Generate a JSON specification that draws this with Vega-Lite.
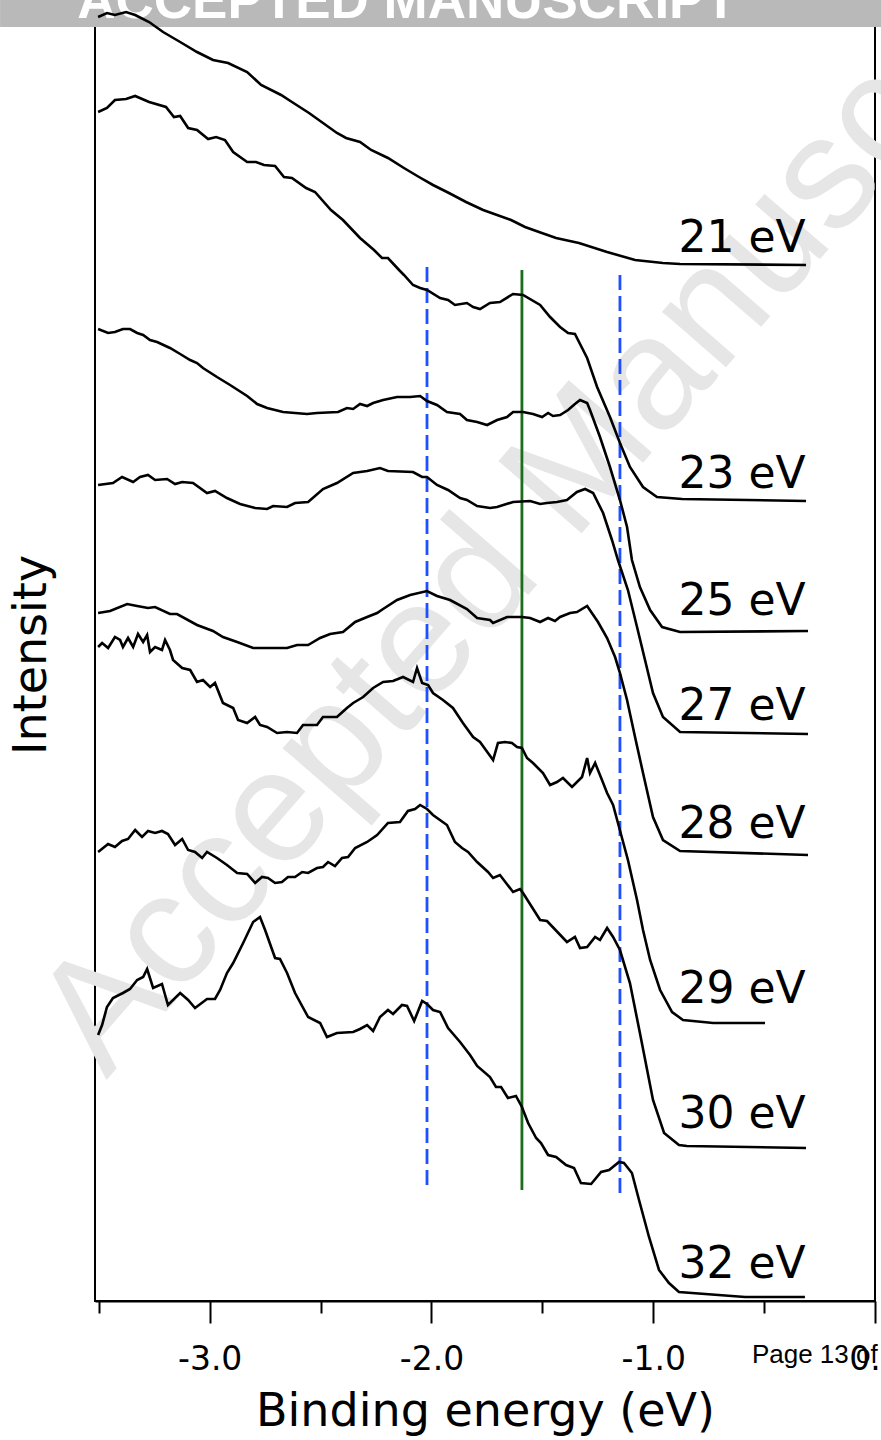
{
  "$schema": "https://vega.github.io/schema/vega-lite/v6.json",
  "width": 780,
  "height": 1293,
  "autosize": {"type": "none"},
  "padding": {"left": 95, "top": 8, "right": 6, "bottom": 139},
  "background": "white",
  "config": {"view": {"stroke": "black", "strokeWidth": 2}, "font": "DejaVu Sans"},
  "datasets": {
    "banner": [{"x": -3.945, "x2": 0.03, "y": 1301, "y2": 1274}],
    "bannerText": [{"t": "ACCEPTED MANUSCRIPT", "x": -2.11, "y": 1283}],
    "watermark": [{"t": "Accepted Manuscript", "x": -1.42, "y": 816}],
    "pageText": [{"t": "Page 13 of", "x": -0.555, "y": -62}],
    "rules": [
      {"k": "b", "x": -2.02, "y": 1034, "y2": 114},
      {"k": "g", "x": -1.592, "y": 1031, "y2": 111},
      {"k": "b", "x": -1.15, "y": 1026, "y2": 103}
    ],
    "labels": [
      {"t": "21 eV", "x": -0.313, "y": 1049},
      {"t": "23 eV", "x": -0.313, "y": 813},
      {"t": "25 eV", "x": -0.313, "y": 686},
      {"t": "27 eV", "x": -0.313, "y": 581},
      {"t": "28 eV", "x": -0.313, "y": 463},
      {"t": "29 eV", "x": -0.313, "y": 298},
      {"t": "30 eV", "x": -0.313, "y": 173},
      {"t": "32 eV", "x": -0.313, "y": 23}
    ],
    "spectra": [
      {"s": "21", "x": -3.503, "y": 1284}, {"s": "21", "x": -3.463, "y": 1288}, {"s": "21", "x": -3.427, "y": 1286}, {"s": "21", "x": -3.377, "y": 1289}, {"s": "21", "x": -3.336, "y": 1286}, {"s": "21", "x": -3.273, "y": 1279}, {"s": "21", "x": -3.21, "y": 1269}, {"s": "21", "x": -3.133, "y": 1259}, {"s": "21", "x": -3.057, "y": 1249}, {"s": "21", "x": -2.985, "y": 1241}, {"s": "21", "x": -2.917, "y": 1238}, {"s": "21", "x": -2.831, "y": 1229}, {"s": "21", "x": -2.768, "y": 1216}, {"s": "21", "x": -2.678, "y": 1206}, {"s": "21", "x": -2.629, "y": 1199}, {"s": "21", "x": -2.552, "y": 1188}, {"s": "21", "x": -2.426, "y": 1168}, {"s": "21", "x": -2.385, "y": 1163}, {"s": "21", "x": -2.322, "y": 1159}, {"s": "21", "x": -2.272, "y": 1151}, {"s": "21", "x": -2.196, "y": 1143}, {"s": "21", "x": -2.124, "y": 1133}, {"s": "21", "x": -2.056, "y": 1124}, {"s": "21", "x": -1.993, "y": 1116}, {"s": "21", "x": -1.921, "y": 1108}, {"s": "21", "x": -1.844, "y": 1099}, {"s": "21", "x": -1.767, "y": 1091}, {"s": "21", "x": -1.641, "y": 1081}, {"s": "21", "x": -1.578, "y": 1074}, {"s": "21", "x": -1.515, "y": 1069}, {"s": "21", "x": -1.438, "y": 1063}, {"s": "21", "x": -1.335, "y": 1058}, {"s": "21", "x": -1.208, "y": 1049}, {"s": "21", "x": -1.082, "y": 1041}, {"s": "21", "x": -0.956, "y": 1038}, {"s": "21", "x": -0.879, "y": 1037}, {"s": "21", "x": -0.311, "y": 1036},

      {"s": "23", "x": -3.503, "y": 1189}, {"s": "23", "x": -3.463, "y": 1193}, {"s": "23", "x": -3.427, "y": 1201}, {"s": "23", "x": -3.377, "y": 1202}, {"s": "23", "x": -3.336, "y": 1205}, {"s": "23", "x": -3.273, "y": 1199}, {"s": "23", "x": -3.197, "y": 1194}, {"s": "23", "x": -3.161, "y": 1184}, {"s": "23", "x": -3.133, "y": 1185}, {"s": "23", "x": -3.097, "y": 1173}, {"s": "23", "x": -3.057, "y": 1171}, {"s": "23", "x": -3.007, "y": 1162}, {"s": "23", "x": -2.971, "y": 1164}, {"s": "23", "x": -2.931, "y": 1161}, {"s": "23", "x": -2.894, "y": 1149}, {"s": "23", "x": -2.831, "y": 1139}, {"s": "23", "x": -2.791, "y": 1139}, {"s": "23", "x": -2.755, "y": 1136}, {"s": "23", "x": -2.705, "y": 1135}, {"s": "23", "x": -2.665, "y": 1124}, {"s": "23", "x": -2.629, "y": 1123}, {"s": "23", "x": -2.565, "y": 1113}, {"s": "23", "x": -2.525, "y": 1109}, {"s": "23", "x": -2.453, "y": 1091}, {"s": "23", "x": -2.399, "y": 1081}, {"s": "23", "x": -2.322, "y": 1063}, {"s": "23", "x": -2.259, "y": 1051}, {"s": "23", "x": -2.223, "y": 1043}, {"s": "23", "x": -2.196, "y": 1043}, {"s": "23", "x": -2.146, "y": 1031}, {"s": "23", "x": -2.124, "y": 1026}, {"s": "23", "x": -2.083, "y": 1016}, {"s": "23", "x": -2.051, "y": 1013}, {"s": "23", "x": -2.02, "y": 1011}, {"s": "23", "x": -1.961, "y": 1003}, {"s": "23", "x": -1.925, "y": 1001}, {"s": "23", "x": -1.894, "y": 996}, {"s": "23", "x": -1.84, "y": 998}, {"s": "23", "x": -1.812, "y": 994}, {"s": "23", "x": -1.781, "y": 992}, {"s": "23", "x": -1.736, "y": 998}, {"s": "23", "x": -1.691, "y": 999}, {"s": "23", "x": -1.632, "y": 1007}, {"s": "23", "x": -1.587, "y": 1006}, {"s": "23", "x": -1.51, "y": 996}, {"s": "23", "x": -1.465, "y": 984}, {"s": "23", "x": -1.42, "y": 974}, {"s": "23", "x": -1.384, "y": 968}, {"s": "23", "x": -1.353, "y": 967}, {"s": "23", "x": -1.298, "y": 943}, {"s": "23", "x": -1.253, "y": 914}, {"s": "23", "x": -1.195, "y": 884}, {"s": "23", "x": -1.15, "y": 858}, {"s": "23", "x": -1.105, "y": 834}, {"s": "23", "x": -1.046, "y": 814}, {"s": "23", "x": -0.983, "y": 804}, {"s": "23", "x": -0.87, "y": 802}, {"s": "23", "x": -0.311, "y": 800},

      {"s": "25", "x": -3.503, "y": 972}, {"s": "25", "x": -3.458, "y": 968}, {"s": "25", "x": -3.427, "y": 969}, {"s": "25", "x": -3.391, "y": 972}, {"s": "25", "x": -3.359, "y": 972}, {"s": "25", "x": -3.327, "y": 968}, {"s": "25", "x": -3.3, "y": 966}, {"s": "25", "x": -3.269, "y": 961}, {"s": "25", "x": -3.237, "y": 959}, {"s": "25", "x": -3.179, "y": 953}, {"s": "25", "x": -3.133, "y": 947}, {"s": "25", "x": -3.088, "y": 941}, {"s": "25", "x": -3.057, "y": 938}, {"s": "25", "x": -3.03, "y": 933}, {"s": "25", "x": -2.967, "y": 924}, {"s": "25", "x": -2.908, "y": 916}, {"s": "25", "x": -2.831, "y": 905}, {"s": "25", "x": -2.786, "y": 897}, {"s": "25", "x": -2.741, "y": 893}, {"s": "25", "x": -2.669, "y": 889}, {"s": "25", "x": -2.561, "y": 887}, {"s": "25", "x": -2.516, "y": 888}, {"s": "25", "x": -2.421, "y": 889}, {"s": "25", "x": -2.381, "y": 893}, {"s": "25", "x": -2.353, "y": 892}, {"s": "25", "x": -2.322, "y": 897}, {"s": "25", "x": -2.29, "y": 895}, {"s": "25", "x": -2.263, "y": 898}, {"s": "25", "x": -2.218, "y": 901}, {"s": "25", "x": -2.155, "y": 904}, {"s": "25", "x": -2.096, "y": 904}, {"s": "25", "x": -2.051, "y": 905}, {"s": "25", "x": -2.02, "y": 900}, {"s": "25", "x": -1.975, "y": 896}, {"s": "25", "x": -1.93, "y": 889}, {"s": "25", "x": -1.871, "y": 887}, {"s": "25", "x": -1.84, "y": 881}, {"s": "25", "x": -1.794, "y": 879}, {"s": "25", "x": -1.749, "y": 876}, {"s": "25", "x": -1.704, "y": 881}, {"s": "25", "x": -1.659, "y": 884}, {"s": "25", "x": -1.632, "y": 889}, {"s": "25", "x": -1.587, "y": 889}, {"s": "25", "x": -1.542, "y": 887}, {"s": "25", "x": -1.501, "y": 884}, {"s": "25", "x": -1.474, "y": 888}, {"s": "25", "x": -1.452, "y": 885}, {"s": "25", "x": -1.42, "y": 886}, {"s": "25", "x": -1.384, "y": 891}, {"s": "25", "x": -1.353, "y": 897}, {"s": "25", "x": -1.33, "y": 901}, {"s": "25", "x": -1.298, "y": 898}, {"s": "25", "x": -1.285, "y": 891}, {"s": "25", "x": -1.24, "y": 864}, {"s": "25", "x": -1.195, "y": 834}, {"s": "25", "x": -1.15, "y": 801}, {"s": "25", "x": -1.118, "y": 774}, {"s": "25", "x": -1.096, "y": 741}, {"s": "25", "x": -1.06, "y": 714}, {"s": "25", "x": -1.014, "y": 691}, {"s": "25", "x": -0.96, "y": 674}, {"s": "25", "x": -0.879, "y": 669}, {"s": "25", "x": -0.302, "y": 670},

      {"s": "27", "x": -3.503, "y": 816}, {"s": "27", "x": -3.436, "y": 818}, {"s": "27", "x": -3.395, "y": 824}, {"s": "27", "x": -3.345, "y": 819}, {"s": "27", "x": -3.314, "y": 824}, {"s": "27", "x": -3.278, "y": 826}, {"s": "27", "x": -3.246, "y": 821}, {"s": "27", "x": -3.192, "y": 822}, {"s": "27", "x": -3.156, "y": 817}, {"s": "27", "x": -3.124, "y": 819}, {"s": "27", "x": -3.075, "y": 818}, {"s": "27", "x": -3.012, "y": 808}, {"s": "27", "x": -2.976, "y": 810}, {"s": "27", "x": -2.922, "y": 803}, {"s": "27", "x": -2.863, "y": 797}, {"s": "27", "x": -2.795, "y": 793}, {"s": "27", "x": -2.741, "y": 792}, {"s": "27", "x": -2.714, "y": 795}, {"s": "27", "x": -2.651, "y": 794}, {"s": "27", "x": -2.615, "y": 798}, {"s": "27", "x": -2.556, "y": 799}, {"s": "27", "x": -2.489, "y": 812}, {"s": "27", "x": -2.426, "y": 818}, {"s": "27", "x": -2.353, "y": 828}, {"s": "27", "x": -2.29, "y": 830}, {"s": "27", "x": -2.232, "y": 833}, {"s": "27", "x": -2.196, "y": 830}, {"s": "27", "x": -2.083, "y": 829}, {"s": "27", "x": -2.042, "y": 824}, {"s": "27", "x": -2.02, "y": 824}, {"s": "27", "x": -1.975, "y": 816}, {"s": "27", "x": -1.925, "y": 811}, {"s": "27", "x": -1.871, "y": 803}, {"s": "27", "x": -1.84, "y": 801}, {"s": "27", "x": -1.794, "y": 795}, {"s": "27", "x": -1.736, "y": 793}, {"s": "27", "x": -1.704, "y": 794}, {"s": "27", "x": -1.632, "y": 799}, {"s": "27", "x": -1.555, "y": 800}, {"s": "27", "x": -1.51, "y": 797}, {"s": "27", "x": -1.479, "y": 798}, {"s": "27", "x": -1.434, "y": 799}, {"s": "27", "x": -1.389, "y": 801}, {"s": "27", "x": -1.344, "y": 809}, {"s": "27", "x": -1.307, "y": 812}, {"s": "27", "x": -1.271, "y": 808}, {"s": "27", "x": -1.226, "y": 788}, {"s": "27", "x": -1.186, "y": 761}, {"s": "27", "x": -1.159, "y": 741}, {"s": "27", "x": -1.114, "y": 711}, {"s": "27", "x": -1.073, "y": 674}, {"s": "27", "x": -1.037, "y": 641}, {"s": "27", "x": -1.001, "y": 608}, {"s": "27", "x": -0.956, "y": 584}, {"s": "27", "x": -0.879, "y": 569}, {"s": "27", "x": -0.302, "y": 567},

      {"s": "28", "x": -3.503, "y": 688}, {"s": "28", "x": -3.449, "y": 690}, {"s": "28", "x": -3.372, "y": 697}, {"s": "28", "x": -3.327, "y": 695}, {"s": "28", "x": -3.278, "y": 693}, {"s": "28", "x": -3.246, "y": 694}, {"s": "28", "x": -3.179, "y": 687}, {"s": "28", "x": -3.147, "y": 687}, {"s": "28", "x": -3.057, "y": 676}, {"s": "28", "x": -2.985, "y": 670}, {"s": "28", "x": -2.94, "y": 664}, {"s": "28", "x": -2.876, "y": 659}, {"s": "28", "x": -2.804, "y": 653}, {"s": "28", "x": -2.714, "y": 653}, {"s": "28", "x": -2.651, "y": 653}, {"s": "28", "x": -2.606, "y": 656}, {"s": "28", "x": -2.556, "y": 656}, {"s": "28", "x": -2.502, "y": 663}, {"s": "28", "x": -2.457, "y": 667}, {"s": "28", "x": -2.399, "y": 669}, {"s": "28", "x": -2.344, "y": 679}, {"s": "28", "x": -2.29, "y": 684}, {"s": "28", "x": -2.245, "y": 688}, {"s": "28", "x": -2.218, "y": 692}, {"s": "28", "x": -2.155, "y": 701}, {"s": "28", "x": -2.096, "y": 706}, {"s": "28", "x": -2.02, "y": 710}, {"s": "28", "x": -1.975, "y": 705}, {"s": "28", "x": -1.916, "y": 701}, {"s": "28", "x": -1.84, "y": 692}, {"s": "28", "x": -1.794, "y": 683}, {"s": "28", "x": -1.736, "y": 681}, {"s": "28", "x": -1.722, "y": 678}, {"s": "28", "x": -1.659, "y": 684}, {"s": "28", "x": -1.592, "y": 684}, {"s": "28", "x": -1.555, "y": 683}, {"s": "28", "x": -1.51, "y": 679}, {"s": "28", "x": -1.474, "y": 683}, {"s": "28", "x": -1.443, "y": 680}, {"s": "28", "x": -1.42, "y": 684}, {"s": "28", "x": -1.375, "y": 688}, {"s": "28", "x": -1.344, "y": 689}, {"s": "28", "x": -1.298, "y": 695}, {"s": "28", "x": -1.249, "y": 679}, {"s": "28", "x": -1.208, "y": 663}, {"s": "28", "x": -1.172, "y": 644}, {"s": "28", "x": -1.15, "y": 628}, {"s": "28", "x": -1.118, "y": 601}, {"s": "28", "x": -1.082, "y": 564}, {"s": "28", "x": -1.046, "y": 528}, {"s": "28", "x": -1.001, "y": 484}, {"s": "28", "x": -0.956, "y": 461}, {"s": "28", "x": -0.879, "y": 450}, {"s": "28", "x": -0.302, "y": 446},

      {"s": "29", "x": -3.503, "y": 654}, {"s": "29", "x": -3.485, "y": 658}, {"s": "29", "x": -3.458, "y": 653}, {"s": "29", "x": -3.427, "y": 664}, {"s": "29", "x": -3.404, "y": 661}, {"s": "29", "x": -3.391, "y": 654}, {"s": "29", "x": -3.368, "y": 663}, {"s": "29", "x": -3.345, "y": 654}, {"s": "29", "x": -3.323, "y": 667}, {"s": "29", "x": -3.3, "y": 659}, {"s": "29", "x": -3.282, "y": 666}, {"s": "29", "x": -3.269, "y": 649}, {"s": "29", "x": -3.246, "y": 654}, {"s": "29", "x": -3.215, "y": 651}, {"s": "29", "x": -3.201, "y": 661}, {"s": "29", "x": -3.179, "y": 651}, {"s": "29", "x": -3.165, "y": 641}, {"s": "29", "x": -3.124, "y": 633}, {"s": "29", "x": -3.088, "y": 631}, {"s": "29", "x": -3.057, "y": 619}, {"s": "29", "x": -3.03, "y": 621}, {"s": "29", "x": -2.998, "y": 614}, {"s": "29", "x": -2.976, "y": 618}, {"s": "29", "x": -2.94, "y": 598}, {"s": "29", "x": -2.894, "y": 593}, {"s": "29", "x": -2.872, "y": 581}, {"s": "29", "x": -2.831, "y": 578}, {"s": "29", "x": -2.795, "y": 584}, {"s": "29", "x": -2.773, "y": 576}, {"s": "29", "x": -2.741, "y": 574}, {"s": "29", "x": -2.696, "y": 568}, {"s": "29", "x": -2.651, "y": 569}, {"s": "29", "x": -2.606, "y": 568}, {"s": "29", "x": -2.579, "y": 576}, {"s": "29", "x": -2.516, "y": 576}, {"s": "29", "x": -2.489, "y": 584}, {"s": "29", "x": -2.426, "y": 584}, {"s": "29", "x": -2.381, "y": 593}, {"s": "29", "x": -2.353, "y": 598}, {"s": "29", "x": -2.308, "y": 604}, {"s": "29", "x": -2.263, "y": 613}, {"s": "29", "x": -2.218, "y": 619}, {"s": "29", "x": -2.173, "y": 620}, {"s": "29", "x": -2.128, "y": 624}, {"s": "29", "x": -2.083, "y": 619}, {"s": "29", "x": -2.065, "y": 633}, {"s": "29", "x": -2.042, "y": 618}, {"s": "29", "x": -2.015, "y": 616}, {"s": "29", "x": -1.993, "y": 608}, {"s": "29", "x": -1.948, "y": 601}, {"s": "29", "x": -1.903, "y": 593}, {"s": "29", "x": -1.858, "y": 578}, {"s": "29", "x": -1.812, "y": 564}, {"s": "29", "x": -1.781, "y": 559}, {"s": "29", "x": -1.745, "y": 548}, {"s": "29", "x": -1.722, "y": 541}, {"s": "29", "x": -1.7, "y": 558}, {"s": "29", "x": -1.668, "y": 559}, {"s": "29", "x": -1.637, "y": 558}, {"s": "29", "x": -1.614, "y": 554}, {"s": "29", "x": -1.592, "y": 553}, {"s": "29", "x": -1.569, "y": 543}, {"s": "29", "x": -1.542, "y": 538}, {"s": "29", "x": -1.497, "y": 528}, {"s": "29", "x": -1.465, "y": 516}, {"s": "29", "x": -1.434, "y": 519}, {"s": "29", "x": -1.407, "y": 523}, {"s": "29", "x": -1.366, "y": 514}, {"s": "29", "x": -1.321, "y": 524}, {"s": "29", "x": -1.298, "y": 543}, {"s": "29", "x": -1.285, "y": 528}, {"s": "29", "x": -1.262, "y": 538}, {"s": "29", "x": -1.231, "y": 521}, {"s": "29", "x": -1.208, "y": 508}, {"s": "29", "x": -1.181, "y": 496}, {"s": "29", "x": -1.159, "y": 478}, {"s": "29", "x": -1.114, "y": 441}, {"s": "29", "x": -1.073, "y": 401}, {"s": "29", "x": -1.046, "y": 371}, {"s": "29", "x": -1.014, "y": 341}, {"s": "29", "x": -0.969, "y": 311}, {"s": "29", "x": -0.915, "y": 289}, {"s": "29", "x": -0.866, "y": 281}, {"s": "29", "x": -0.73, "y": 278}, {"s": "29", "x": -0.496, "y": 278},

      {"s": "30", "x": -3.503, "y": 449}, {"s": "30", "x": -3.458, "y": 457}, {"s": "30", "x": -3.427, "y": 454}, {"s": "30", "x": -3.395, "y": 460}, {"s": "30", "x": -3.368, "y": 462}, {"s": "30", "x": -3.336, "y": 471}, {"s": "30", "x": -3.305, "y": 464}, {"s": "30", "x": -3.278, "y": 470}, {"s": "30", "x": -3.246, "y": 468}, {"s": "30", "x": -3.215, "y": 470}, {"s": "30", "x": -3.188, "y": 467}, {"s": "30", "x": -3.156, "y": 456}, {"s": "30", "x": -3.124, "y": 462}, {"s": "30", "x": -3.097, "y": 451}, {"s": "30", "x": -3.066, "y": 449}, {"s": "30", "x": -3.034, "y": 443}, {"s": "30", "x": -3.012, "y": 449}, {"s": "30", "x": -2.967, "y": 443}, {"s": "30", "x": -2.922, "y": 436}, {"s": "30", "x": -2.876, "y": 428}, {"s": "30", "x": -2.831, "y": 427}, {"s": "30", "x": -2.795, "y": 418}, {"s": "30", "x": -2.764, "y": 424}, {"s": "30", "x": -2.737, "y": 423}, {"s": "30", "x": -2.705, "y": 418}, {"s": "30", "x": -2.674, "y": 419}, {"s": "30", "x": -2.647, "y": 424}, {"s": "30", "x": -2.615, "y": 424}, {"s": "30", "x": -2.583, "y": 429}, {"s": "30", "x": -2.556, "y": 428}, {"s": "30", "x": -2.516, "y": 433}, {"s": "30", "x": -2.489, "y": 434}, {"s": "30", "x": -2.466, "y": 439}, {"s": "30", "x": -2.435, "y": 435}, {"s": "30", "x": -2.403, "y": 443}, {"s": "30", "x": -2.376, "y": 444}, {"s": "30", "x": -2.344, "y": 453}, {"s": "30", "x": -2.29, "y": 459}, {"s": "30", "x": -2.245, "y": 466}, {"s": "30", "x": -2.196, "y": 478}, {"s": "30", "x": -2.142, "y": 479}, {"s": "30", "x": -2.106, "y": 490}, {"s": "30", "x": -2.074, "y": 492}, {"s": "30", "x": -2.051, "y": 496}, {"s": "30", "x": -2.02, "y": 492}, {"s": "30", "x": -1.993, "y": 486}, {"s": "30", "x": -1.93, "y": 476}, {"s": "30", "x": -1.894, "y": 459}, {"s": "30", "x": -1.862, "y": 453}, {"s": "30", "x": -1.835, "y": 449}, {"s": "30", "x": -1.794, "y": 439}, {"s": "30", "x": -1.745, "y": 429}, {"s": "30", "x": -1.722, "y": 423}, {"s": "30", "x": -1.691, "y": 426}, {"s": "30", "x": -1.632, "y": 409}, {"s": "30", "x": -1.601, "y": 412}, {"s": "30", "x": -1.587, "y": 408}, {"s": "30", "x": -1.51, "y": 381}, {"s": "30", "x": -1.479, "y": 380}, {"s": "30", "x": -1.389, "y": 359}, {"s": "30", "x": -1.353, "y": 364}, {"s": "30", "x": -1.33, "y": 353}, {"s": "30", "x": -1.298, "y": 354}, {"s": "30", "x": -1.262, "y": 364}, {"s": "30", "x": -1.24, "y": 361}, {"s": "30", "x": -1.208, "y": 373}, {"s": "30", "x": -1.181, "y": 364}, {"s": "30", "x": -1.15, "y": 351}, {"s": "30", "x": -1.105, "y": 318}, {"s": "30", "x": -1.06, "y": 268}, {"s": "30", "x": -1.001, "y": 201}, {"s": "30", "x": -0.951, "y": 168}, {"s": "30", "x": -0.884, "y": 156}, {"s": "30", "x": -0.848, "y": 155}, {"s": "30", "x": -0.311, "y": 153},

      {"s": "32", "x": -3.503, "y": 266}, {"s": "32", "x": -3.485, "y": 276}, {"s": "32", "x": -3.463, "y": 294}, {"s": "32", "x": -3.436, "y": 303}, {"s": "32", "x": -3.391, "y": 308}, {"s": "32", "x": -3.359, "y": 312}, {"s": "32", "x": -3.327, "y": 321}, {"s": "32", "x": -3.3, "y": 324}, {"s": "32", "x": -3.282, "y": 332}, {"s": "32", "x": -3.255, "y": 313}, {"s": "32", "x": -3.215, "y": 317}, {"s": "32", "x": -3.188, "y": 296}, {"s": "32", "x": -3.133, "y": 308}, {"s": "32", "x": -3.097, "y": 301}, {"s": "32", "x": -3.066, "y": 293}, {"s": "32", "x": -3.012, "y": 302}, {"s": "32", "x": -2.976, "y": 302}, {"s": "32", "x": -2.953, "y": 311}, {"s": "32", "x": -2.922, "y": 328}, {"s": "32", "x": -2.894, "y": 338}, {"s": "32", "x": -2.849, "y": 358}, {"s": "32", "x": -2.804, "y": 379}, {"s": "32", "x": -2.773, "y": 384}, {"s": "32", "x": -2.75, "y": 371}, {"s": "32", "x": -2.705, "y": 343}, {"s": "32", "x": -2.683, "y": 342}, {"s": "32", "x": -2.651, "y": 328}, {"s": "32", "x": -2.615, "y": 308}, {"s": "32", "x": -2.556, "y": 284}, {"s": "32", "x": -2.502, "y": 278}, {"s": "32", "x": -2.471, "y": 264}, {"s": "32", "x": -2.426, "y": 268}, {"s": "32", "x": -2.353, "y": 269}, {"s": "32", "x": -2.322, "y": 272}, {"s": "32", "x": -2.29, "y": 276}, {"s": "32", "x": -2.263, "y": 270}, {"s": "32", "x": -2.232, "y": 284}, {"s": "32", "x": -2.196, "y": 291}, {"s": "32", "x": -2.173, "y": 287}, {"s": "32", "x": -2.133, "y": 296}, {"s": "32", "x": -2.11, "y": 295}, {"s": "32", "x": -2.078, "y": 280}, {"s": "32", "x": -2.042, "y": 300}, {"s": "32", "x": -2.02, "y": 297}, {"s": "32", "x": -1.993, "y": 291}, {"s": "32", "x": -1.961, "y": 289}, {"s": "32", "x": -1.925, "y": 273}, {"s": "32", "x": -1.871, "y": 259}, {"s": "32", "x": -1.826, "y": 246}, {"s": "32", "x": -1.794, "y": 235}, {"s": "32", "x": -1.736, "y": 224}, {"s": "32", "x": -1.709, "y": 214}, {"s": "32", "x": -1.686, "y": 214}, {"s": "32", "x": -1.655, "y": 203}, {"s": "32", "x": -1.619, "y": 205}, {"s": "32", "x": -1.592, "y": 194}, {"s": "32", "x": -1.564, "y": 178}, {"s": "32", "x": -1.528, "y": 163}, {"s": "32", "x": -1.506, "y": 158}, {"s": "32", "x": -1.474, "y": 146}, {"s": "32", "x": -1.438, "y": 144}, {"s": "32", "x": -1.393, "y": 136}, {"s": "32", "x": -1.357, "y": 133}, {"s": "32", "x": -1.326, "y": 118}, {"s": "32", "x": -1.28, "y": 117}, {"s": "32", "x": -1.235, "y": 129}, {"s": "32", "x": -1.199, "y": 131}, {"s": "32", "x": -1.154, "y": 139}, {"s": "32", "x": -1.132, "y": 138}, {"s": "32", "x": -1.096, "y": 128}, {"s": "32", "x": -1.064, "y": 101}, {"s": "32", "x": -1.019, "y": 64}, {"s": "32", "x": -0.974, "y": 31}, {"s": "32", "x": -0.929, "y": 18}, {"s": "32", "x": -0.884, "y": 9}, {"s": "32", "x": -0.586, "y": 4}, {"s": "32", "x": -0.316, "y": 4}
    ]
  },
  "encoding": {
    "x": {
      "field": "x", "type": "quantitative",
      "scale": {"domain": [-3.517, 0], "nice": false, "zero": false},
      "axis": {
        "values": [-3.5, -3, -2.5, -2, -1.5, -1, -0.5, 0],
        "labelExpr": "abs(datum.value - round(datum.value)) < 0.01 ? (datum.value < -0.01 ? '-' + format(-datum.value, '.1f') : '0.0') : ''",
        "tickSize": {"condition": {"test": "abs(datum.value - round(datum.value)) < 0.01", "value": 22}, "value": 12},
        "tickWidth": 2, "tickColor": "black",
        "domainColor": "black", "domainWidth": 2,
        "grid": false,
        "labelFont": "DejaVu Sans", "labelFontSize": 33, "labelColor": "black",
        "labelPadding": 20, "labelFlush": false, "labelOverlap": false,
        "title": "Binding energy (eV)", "titleFont": "DejaVu Sans", "titleFontSize": 46,
        "titleFontWeight": "normal", "titleColor": "black", "titlePadding": 13
      }
    },
    "y": {
      "field": "y", "type": "quantitative",
      "scale": {"domain": [0, 1293], "nice": false, "zero": false},
      "axis": {
        "title": "Intensity", "ticks": false, "labels": false, "domain": false, "grid": false,
        "titleFont": "DejaVu Sans", "titleFontSize": 46, "titleFontWeight": "normal",
        "titleColor": "black", "titlePadding": 40
      }
    }
  },
  "layer": [
    {
      "data": {"name": "banner"},
      "mark": {"type": "rect", "color": "#b9b9b9", "clip": false},
      "encoding": {"x2": {"field": "x2"}, "y2": {"field": "y2"}}
    },
    {
      "data": {"name": "bannerText"},
      "mark": {"type": "text", "font": "Liberation Sans", "fontWeight": "bold", "fontSize": 53, "color": "white", "align": "center", "baseline": "alphabetic", "clip": false},
      "encoding": {"text": {"field": "t"}}
    },
    {
      "data": {"name": "watermark"},
      "mark": {"type": "text", "font": "Liberation Sans", "fontSize": 160, "color": "#e6e6e6", "align": "center", "baseline": "middle", "angle": -49, "clip": false},
      "encoding": {"text": {"field": "t"}}
    },
    {
      "data": {"name": "rules"},
      "mark": {"type": "rule", "strokeWidth": 2.8},
      "encoding": {
        "y2": {"field": "y2"},
        "color": {"field": "k", "type": "nominal", "scale": {"domain": ["b", "g"], "range": ["#1f50ff", "#1b6e1b"]}, "legend": null},
        "strokeDash": {"field": "k", "type": "nominal", "scale": {"domain": ["b", "g"], "range": [[15, 6], [1, 0]]}, "legend": null}
      }
    },
    {
      "data": {"name": "spectra"},
      "mark": {"type": "line", "color": "black", "strokeWidth": 2.6},
      "encoding": {"detail": {"field": "s", "type": "nominal"}}
    },
    {
      "data": {"name": "labels"},
      "mark": {"type": "text", "font": "DejaVu Sans", "fontSize": 44, "color": "black", "align": "right", "baseline": "alphabetic"},
      "encoding": {"text": {"field": "t"}}
    },
    {
      "data": {"name": "pageText"},
      "mark": {"type": "text", "font": "Liberation Sans", "fontSize": 26, "color": "black", "align": "left", "baseline": "alphabetic", "clip": false},
      "encoding": {"text": {"field": "t"}}
    }
  ]
}
